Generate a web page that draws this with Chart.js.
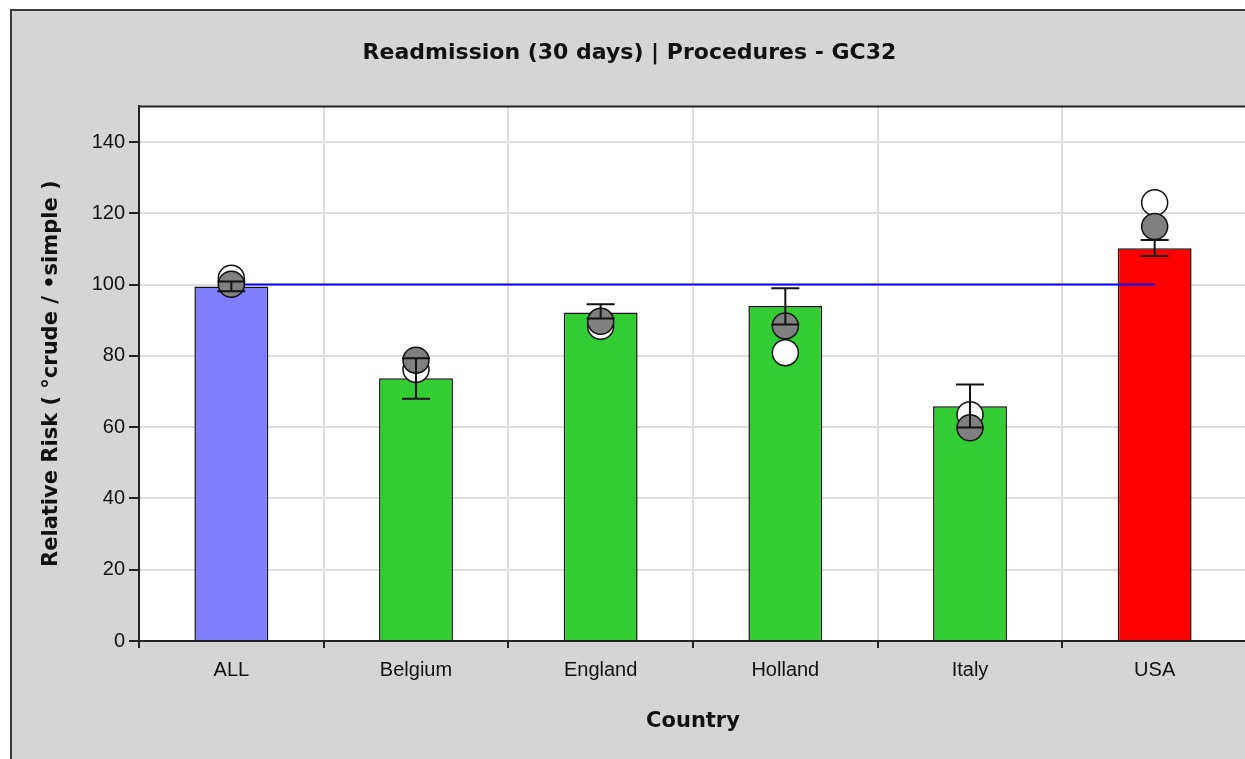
<!DOCTYPE html>
<html>
<head>
<meta charset="utf-8">
<title>Readmission (30 days) | Procedures - GC32</title>
<script src="https://cdn.jsdelivr.net/npm/chart.js@4.4.1/dist/chart.umd.min.js"></script>
<style>
	html, body { margin:0; padding:0; background:#ffffff; overflow:hidden; }
	#frame {
		position:absolute; left:10px; top:9px;
		width:1260px; height:780px;
		border-left:2px solid #3a3a3a; border-top:2px solid #3a3a3a;
		background:#d5d5d5; overflow:hidden;
	}
	#chart { position:absolute; left:0; top:0; }
</style>
</head>
<body>
<div id="frame"><canvas id="chart" width="1240" height="748"></canvas></div>
<script>
//-----------------------------------------------------------------------------
// relative risk per country, bars + crude/simple markers + error bars
//-----------------------------------------------------------------------------

var countries = ["ALL", "Belgium", "England", "Holland", "Italy", "USA"];
var relative_risk = [99.5, 73.7, 92.2, 94.0, 65.9, 110.2];
var crude_rr = [101.8, 76.2, 88.3, 80.9, 63.5, 123.0];
var simple_rr = [100.1, 78.8, 89.7, 88.4, 59.8, 116.3];
var err_low = [98.1, 68.0, 90.5, 88.8, 59.9, 108.0];
var err_high = [100.9, 79.3, 94.5, 99.0, 72.0, 112.5];
var reference_line = [100, 100, 100, 100, 100, 100];
var bar_colours = ["#8080ff", "#33cc33", "#33cc33", "#33cc33", "#33cc33", "#ff0000"];
var y_ticks = [0, 20, 40, 60, 80, 100, 120, 140];

// white plot background + top edge of the plot box
var plotBox = {
	id: "plotBox",
	beforeDraw: function(chart)
	{
		var a = chart.chartArea, ctx = chart.ctx;
		ctx.save();
		ctx.fillStyle = "#ffffff";
		ctx.fillRect(a.left, a.top, a.right - a.left, a.bottom - a.top);
		ctx.restore();
	},
	afterDraw: function(chart)
	{
		var a = chart.chartArea, ctx = chart.ctx;
		ctx.save();
		ctx.strokeStyle = "#222222";
		ctx.lineWidth = 2;
		ctx.beginPath();
		ctx.moveTo(a.left, a.top);
		ctx.lineTo(a.right, a.top);
		ctx.stroke();
		ctx.restore();
	}
};

// error bars, drawn over the markers
var errorBars = {
	id: "errorBars",
	afterDatasetsDraw: function(chart)
	{
		var x = chart.scales.x, y = chart.scales.y, ctx = chart.ctx;
		ctx.save();
		ctx.strokeStyle = "#111111";
		ctx.lineWidth = 2;
		for (var i = 0; i < countries.length; i++)
		{
			var px = x.getPixelForValue(i);
			var lo = y.getPixelForValue(err_low[i]);
			var hi = y.getPixelForValue(err_high[i]);
			ctx.beginPath();
			ctx.moveTo(px, lo); ctx.lineTo(px, hi);
			ctx.moveTo(px - 14, lo); ctx.lineTo(px + 14, lo);
			ctx.moveTo(px - 14, hi); ctx.lineTo(px + 14, hi);
			ctx.stroke();
		}
		ctx.restore();
	}
};

var bold = function(size) { return {family:"'DejaVu Sans', sans-serif", size:size, weight:"bold"}; };
var plain = function(size) { return {family:"'Liberation Sans', Arial, sans-serif", size:size}; };

var chart = new Chart(document.getElementById("chart"), {
	data: {
		labels: countries,
		datasets: [
			{ type:"line", label:"simple", data:simple_rr, showLine:false, order:1,
				pointRadius:13, pointBackgroundColor:"#808080", pointBorderColor:"#111111", pointBorderWidth:1.5 },
			{ type:"line", label:"crude", data:crude_rr, showLine:false, order:2,
				pointRadius:13, pointBackgroundColor:"#ffffff", pointBorderColor:"#111111", pointBorderWidth:1.5 },
			{ type:"line", label:"reference", data:reference_line, order:3,
				borderColor:"#0000ff", borderWidth:2, pointRadius:0, fill:false },
			{ type:"bar", label:"Relative Risk", data:relative_risk, order:4,
				backgroundColor:bar_colours, borderColor:"#111111", borderWidth:1.5,
				categoryPercentage:1.0, barPercentage:0.4 }
		]
	},
	options: {
		responsive:false,
		devicePixelRatio:1,
		animation:false,
		layout: { autoPadding:false, padding: {left:0, right:5, top:0, bottom:0} },
		plugins: {
			legend: { display:false },
			tooltip: { enabled:false },
			title: {
				display:true,
				text:"Readmission (30 days) | Procedures - GC32",
				color:"#111111",
				font:bold(22),
				padding:{top:29, bottom:40}
			}
		},
		scales: {
			x: {
				grid: { color:"#dddddd", lineWidth:2, offset:true, tickLength:7, tickColor:"#222222", tickWidth:2 },
				border: { color:"#222222", width:2 },
				ticks: { color:"#111111", font:plain(20), padding:10 },
				title: { display:true, text:"Country", color:"#111111", font:bold(21), padding:{top:0, bottom:25} },
				afterFit: function(scale) { scale.height = 118; }
			},
			y: {
				min:0, max:150,
				grid: { color:"#dddddd", lineWidth:2, tickLength:10, tickColor:"#222222", tickWidth:2 },
				border: { color:"#222222", width:2 },
				ticks: { stepSize:20, includeBounds:false, color:"#111111", font:plain(20), padding:4,
					callback: function(v) { return y_ticks.indexOf(v) >= 0 ? v : null; } },
				title: { display:true, text:"Relative Risk ( \u00b0crude / \u2022simple )", color:"#111111", font:bold(21), padding:{top:27, bottom:0} },
				afterFit: function(scale) { scale.width = 127; }
			}
		}
	},
	plugins: [plotBox, errorBars]
});
</script>
</body>
</html>
